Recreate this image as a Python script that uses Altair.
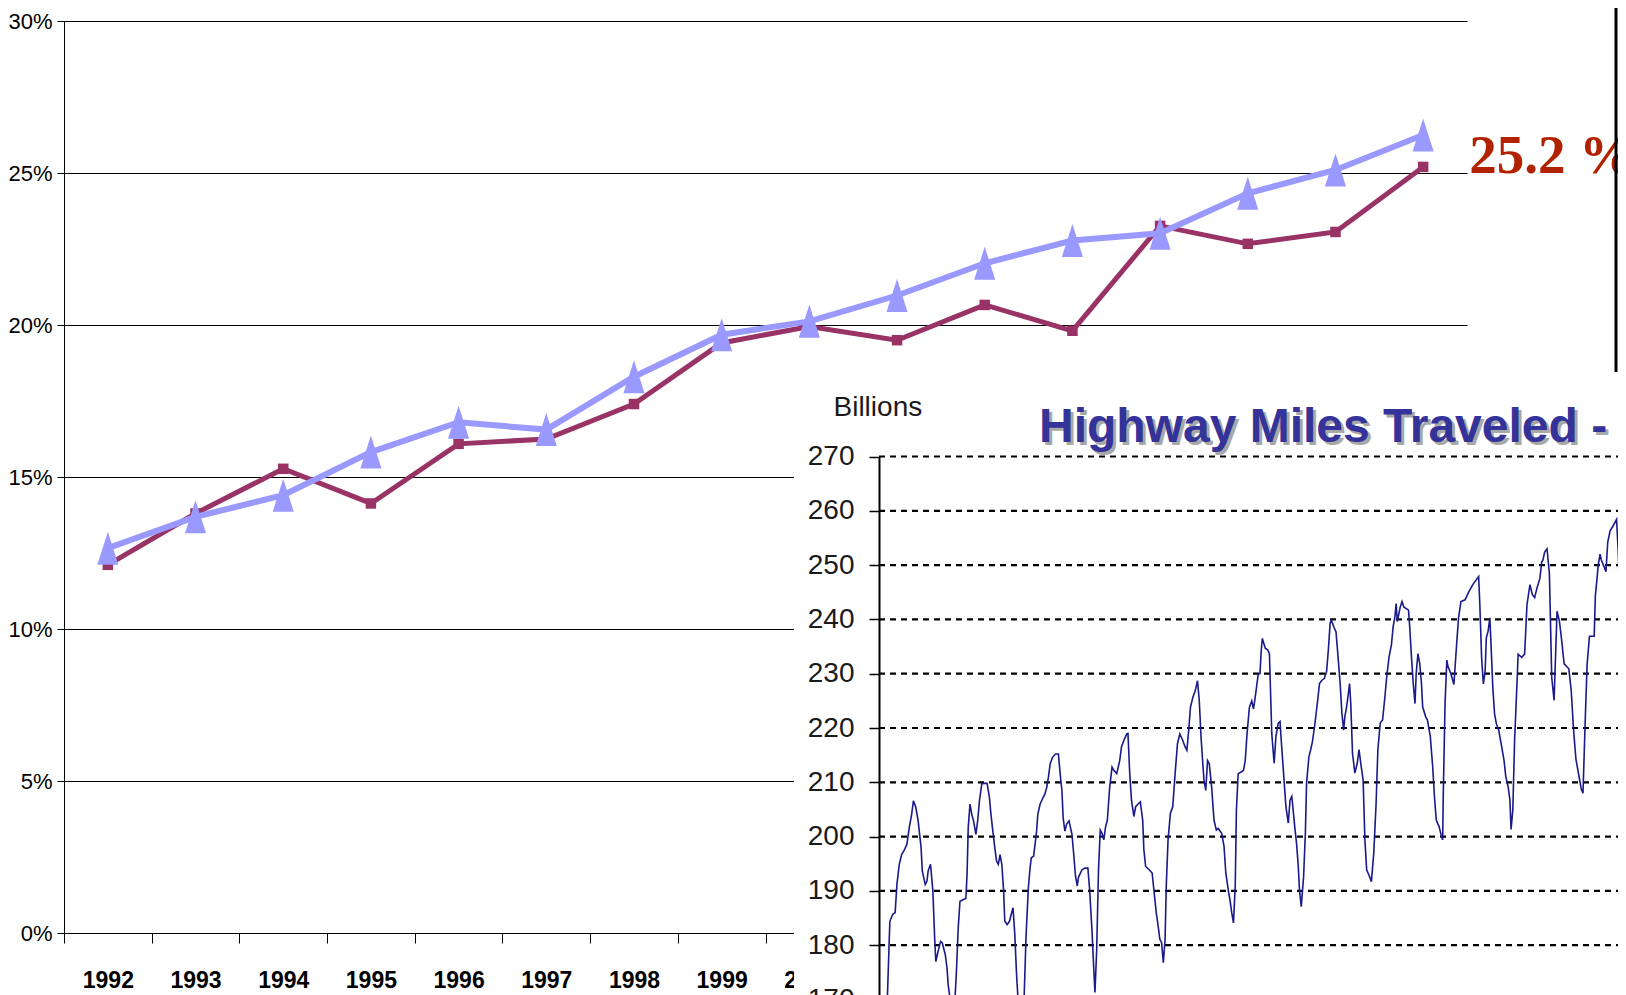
import altair as alt
import pandas as pd

# ---------------- main chart data ----------------
YEARS = [str(y) for y in range(1992, 2008)]
SERIES_A = [12.11, 13.8, 15.27, 14.13, 16.09, 16.25, 17.4, 19.41, 19.95, 19.5,
            20.66, 19.81, 23.26, 22.67, 23.06, 25.2]          # maroon squares
SERIES_B = [12.66, 13.69, 14.4, 15.82, 16.8, 16.56, 18.3, 19.68, 20.12, 20.97,
            22.03, 22.78, 23.02, 24.33, 25.1, 26.25]          # light blue triangles
Y_TICKS = [0, 5, 10, 15, 20, 25, 30]

# ---------------- inset (Highway Miles Traveled) data ----------------
VMT_MONTH = [0.0, 0.2, 0.4, 0.6, 1.1, 1.5, 1.8, 2.2, 2.6, 3.0,
             3.5, 3.9, 4.3, 4.6, 5.0, 5.4, 5.9, 6.1, 6.6, 6.9,
             7.1, 7.5, 7.9, 8.2, 8.4, 8.8, 9.2, 9.5, 10.0, 10.3,
             10.5, 10.8, 11.3, 11.6, 11.9, 12.2, 12.5, 13.1, 13.5, 13.7,
             13.9, 14.2, 14.5, 14.8, 15.2, 15.5, 15.8, 16.2, 16.5, 17.1,
             17.5, 17.7, 18.0, 18.4, 18.7, 19.0, 19.3, 19.6, 19.9, 20.1,
             20.5, 20.9, 21.2, 21.5, 21.8, 22.1, 22.3, 22.8, 23.4, 23.7,
             24.1, 24.4, 24.6, 25.0, 25.5, 25.7, 26.1, 26.6, 26.9, 27.2,
             27.5, 27.8, 28.2, 28.7, 29.2, 29.5, 29.8, 30.0, 30.3, 30.6,
             31.0, 31.5, 31.8, 32.1, 32.4, 32.6, 33.2, 33.7, 34.2, 34.5,
             34.9, 35.2, 35.4, 35.7, 36.0, 36.3, 36.6, 36.9, 37.2, 37.5,
             37.9, 38.3, 38.6, 39.1, 39.6, 39.9, 40.3, 40.8, 41.0, 41.3,
             41.6, 42.0, 42.3, 42.8, 43.1, 43.5, 43.7, 44.0, 44.6, 45.1,
             45.4, 45.8, 46.2, 46.4, 46.7, 47.0, 47.3, 47.5, 47.8, 48.2,
             48.6, 49.0, 49.4, 49.8, 50.3, 50.7, 51.0, 51.3, 51.6, 52.0,
             52.4, 52.8, 53.1, 53.4, 53.7, 53.9, 54.2, 54.5, 54.8, 55.2,
             55.6, 56.0, 56.3, 56.9, 57.3, 57.6, 58.1, 58.3, 58.6, 58.9,
             59.2, 59.4, 59.7, 60.2, 60.6, 60.9, 61.2, 61.6, 62.0, 62.3,
             62.5, 62.8, 63.1, 63.4, 63.6, 63.8, 64.3, 64.7, 65.0, 65.4,
             65.8, 66.1, 66.5, 66.8, 67.0, 67.4, 67.8, 68.2, 68.5, 68.8,
             69.0, 69.3, 69.6, 69.9, 70.1, 70.4, 70.8, 71.1, 71.3, 71.7,
             72.0, 72.3, 72.7, 73.2, 73.5, 73.9, 74.3, 74.7, 75.0, 75.3,
             75.5, 75.9, 76.3, 76.6, 77.0, 77.3, 77.6, 77.8, 78.1, 78.4,
             78.6, 78.8, 79.1, 79.5, 79.9, 80.2, 80.5, 80.9, 81.2, 81.5,
             82.0, 82.3, 82.7, 83.1, 83.4, 83.8, 84.2, 84.6, 84.9, 85.3,
             85.7, 86.0, 86.3, 86.5, 86.7, 87.2, 87.5, 87.8, 88.6, 88.8,
             89.1, 89.4, 89.7, 89.9, 90.2, 90.5, 90.8, 91.0, 91.5, 91.8,
             92.3, 92.7, 93.0, 93.3, 93.8, 94.2, 94.4, 94.5, 94.8, 95.1,
             95.3, 95.8, 96.1, 96.3, 96.8, 97.1, 97.5, 98.2, 98.7, 99.5,
             100.5, 100.7, 101.0, 101.3, 101.6, 101.8, 102.1, 102.4, 102.6, 102.9,
             103.2, 103.5, 103.9, 104.3, 104.8, 105.1, 105.5, 105.8, 106.0, 106.3,
             106.6, 107.0, 107.2, 107.8, 108.3, 108.7, 109.2, 109.6, 110.0, 110.4,
             110.9, 111.2, 111.4, 111.7, 112.1, 112.5, 112.9, 113.3, 113.8, 114.2,
             114.6, 115.0, 115.8, 116.2, 116.6, 117.0, 117.4, 117.9, 118.2, 118.6,
             118.9, 119.3, 120.1, 120.3, 120.8, 121.1, 121.3, 121.7, 122.1, 122.4,
             122.8, 123.3, 123.9, 124.2, 124.5, 124.7, 125.0]
VMT_BILLIONS = [168, 170.9, 177.7, 184.4, 185.7, 186, 191.2, 194.9, 196.7, 197.4,
                198.6, 201.7, 204.1, 206.6, 205.4, 202.9, 198, 193.7, 191.2, 191.8,
                193.7, 194.9, 190, 181.4, 177, 178.9, 180.7, 180.4, 178.3, 175.8,
                172.7, 170.3, 166, 169, 175.2, 183.2, 188.1, 188.4, 188.6, 193,
                201.7, 206, 204.1, 202.9, 200.4, 202.9, 206.6, 209.7, 209.8, 209.8,
                207.2, 204.7, 201.7, 198, 195.5, 194.9, 196.7, 194.9, 190, 184.4,
                183.8, 184.4, 185.7, 186.9, 182, 174.6, 170.9, 165, 170.9, 181.4,
                190.6, 194.3, 196.1, 196.4, 201, 204.1, 206, 207.2, 207.8, 209,
                210.9, 213.4, 214.6, 215.2, 215.2, 211.5, 208.4, 203.5, 201, 202.3,
                202.9, 200.4, 196.7, 192.7, 190.9, 192.5, 193.9, 194.2, 194.2, 190.2,
                182.6, 175.6, 171.3, 179.3, 193.9, 201.2, 200.6, 199.4, 201.8, 203,
                209.1, 212.8, 212.2, 211.6, 214, 216.5, 217.7, 218.9, 219, 211.6,
                206.7, 203.7, 205.5, 206.1, 206.4, 203, 197.6, 194.5, 193.9, 193.3,
                190.2, 186, 182.9, 181.1, 180.5, 176.8, 181.1, 190.9, 199.4, 204.3,
                205.5, 211.6, 217.1, 218.9, 217.7, 216.5, 215.9, 219.5, 223.8, 225.6,
                226.8, 228.7, 225, 218.3, 213.4, 210.4, 208.5, 214, 213.4, 209.1,
                203, 201.2, 201.5, 200.6, 198.2, 193.3, 189.6, 188.4, 186, 184.1,
                190.9, 204.9, 211.6, 211.9, 212.2, 214, 218.9, 223.8, 225, 223.5,
                225, 227.4, 229.9, 230, 234.1, 236.5, 234.7, 234.4, 233.7, 219,
                213.5, 218.4, 220.9, 221.2, 217.8, 211.7, 205.5, 202.5, 206.7, 207.4,
                205.2, 201.8, 198.8, 194.5, 190.2, 187.1, 192.6, 200.6, 209.8, 214.7,
                216, 217.5, 220.6, 225.2, 228.2, 228.8, 229.1, 230.4, 234.4, 239.3,
                239.9, 238.7, 237.7, 233.7, 228.2, 222.7, 219.6, 222.1, 223.9, 226.4,
                228.2, 224.5, 215.3, 211.7, 213.5, 216, 213.5, 210.4, 199.4, 193.9,
                192.6, 191.7, 196.9, 206.1, 216, 220.9, 221.5, 225.8, 229.4, 233.1,
                235.3, 238.7, 240.5, 242.9, 239.6, 242.3, 243.3, 242.3, 241.7, 238.7,
                233.1, 228.2, 224.5, 230, 233.7, 231.9, 228.2, 223.9, 222.1, 221.5,
                218.4, 212.9, 207.4, 203.1, 201.8, 200, 199.4, 208, 224.5, 232.5,
                231.3, 230, 228.8, 228, 236, 240.4, 243.3, 243.6, 244.8, 246.4,
                247.9, 242.7, 233, 228.1, 230.5, 236.6, 237.8, 240.3, 235.4, 227.5,
                222.6, 220.8, 219.6, 217.2, 214.1, 211.1, 209.2, 206.8, 201.3, 205,
                217.8, 228.1, 233.6, 233, 233.6, 242.7, 246.4, 244.6, 244, 245.8,
                247.6, 250.6, 250.9, 252.4, 253, 248.5, 229.3, 225.1, 241.5, 239.7,
                236, 231.8, 230.9, 227, 219.7, 214.3, 211.9, 208.8, 208, 222,
                231.7, 236.9, 236.9, 244.3, 250.1, 252, 251, 249.9, 248.8, 254.2,
                256.3, 257.2, 258.4, 252, 240, 236, 244]
VMT_TICKS = list(range(170, 280, 10))
VMT_GRID = list(range(180, 280, 10))
INSET_TITLE = "Highway Miles Traveled - U.S."
INSET_UNIT = "Billions"

# ---------------- styling ----------------
SANS = "Liberation Sans, Arial, sans-serif"
MAROON = "#993366"
LILAC = "#9999FF"
NAVY = "#1a1a8a"
W, H = 1403, 912

# ---------------- main chart ----------------
x_main = alt.X(
    "year:N", sort=YEARS,
    scale=alt.Scale(type="band", paddingInner=0, paddingOuter=0),
    axis=alt.Axis(title=None, labelAngle=0, tickBand="extent", grid=False,
                  domainColor="black", domainWidth=1, tickColor="black",
                  tickSize=10, tickWidth=1, labelColor="black", labelFont=SANS,
                  labelFontSize=23, labelFontWeight="bold", labelPadding=26),
)
y_main = alt.Y(
    "pct:Q",
    scale=alt.Scale(domain=[0, 30], nice=False, zero=True),
    axis=alt.Axis(title=None, values=Y_TICKS, labelExpr="datum.value + '%'",
                  grid=True, gridColor="black", gridWidth=1, gridOpacity=1,
                  domainColor="black", domainWidth=1, tickColor="black",
                  tickSize=7, labelColor="black", labelFont=SANS,
                  labelFontSize=22, labelPadding=5),
)

df_a = pd.DataFrame({"year": YEARS, "pct": SERIES_A})
df_b = pd.DataFrame({"year": YEARS, "pct": SERIES_B})
df_lbl = pd.DataFrame({"year": [YEARS[-1]], "pct": [SERIES_A[-1]],
                       "label": [f"{SERIES_A[-1]} %"]})

a_line = alt.Chart(df_a).mark_line(color=MAROON, strokeWidth=5).encode(x=x_main, y=y_main)
a_pts = alt.Chart(df_a).mark_point(shape="square", filled=True, size=110, color=MAROON,
                                   opacity=1).encode(x=x_main, y=y_main)
b_line = alt.Chart(df_b).mark_line(color=LILAC, strokeWidth=6).encode(x=x_main, y=y_main)
b_pts = alt.Chart(df_b).mark_point(shape="M0,-1L0.64,1L-0.64,1Z", filled=True, size=1089,
                                   color=LILAC, opacity=1).encode(x=x_main, y=y_main)
end_lbl = alt.Chart(df_lbl).mark_text(
    font="Liberation Serif, Times New Roman, serif", fontSize=55, fontWeight="bold",
    color="#B22200", align="left", baseline="alphabetic", dx=46, dy=6,
).encode(x=x_main, y=y_main, text="label:N")

main = alt.layer(a_line, a_pts, b_line, b_pts, end_lbl)

# ---------------- inset chart ----------------
T_AXIS, T_EDGE = -1.24, 125.5
x_in_scale = alt.Scale(domain=[T_AXIS, T_EDGE], range=[815, 1562], nice=False, zero=False)
y_in_scale = alt.Scale(domain=[170, 270], range=[978.5, 435.5], nice=False, zero=False)
y_in_axis = alt.Axis(
    orient="left", offset=-815, values=VMT_TICKS, grid=False, zindex=1,
    domainColor="black", domainWidth=2, tickColor="black", tickSize=10, tickWidth=1.5,
    labelFont=SANS, labelFontSize=28, labelColor="#1a1a1a", labelPadding=15,
    title=INSET_UNIT, titleAngle=0, titleAlign="left", titleBaseline="alphabetic",
    titleX=-46, titleY=394, titleFont=SANS, titleFontSize=28, titleFontWeight="normal",
    titleColor="#1a1a1a",
)


def xi_field():
    return alt.X("t:Q", scale=x_in_scale, axis=None)


def xi_datum(v):
    return alt.X(datum=v, type="quantitative", scale=x_in_scale, axis=None)


def yi_field():
    return alt.Y("v:Q", scale=y_in_scale, axis=y_in_axis)


def yi_datum(v):
    return alt.Y(datum=v, type="quantitative", scale=y_in_scale, axis=y_in_axis)


one = pd.DataFrame({"k": [0]})
df_vmt = pd.DataFrame({"t": VMT_MONTH, "v": VMT_BILLIONS})
df_grid = pd.DataFrame({"v": VMT_GRID})

box = alt.Chart(one).mark_rect(color="white", opacity=1).encode(
    x=xi_datum(-15.66), x2=alt.X2(datum=T_EDGE + 5),
    y=yi_datum(160), y2=alt.Y2(datum=286.85),
)
grid = alt.Chart(df_grid).mark_rule(color="#000000", strokeWidth=2.2, strokeDash=[6, 5]).encode(
    x=xi_datum(T_AXIS), x2=alt.X2(datum=T_EDGE), y=yi_field(),
)
vmt_line = alt.Chart(df_vmt).mark_line(color=NAVY, strokeWidth=1.6).encode(
    x=xi_field(), y=yi_field(),
)
title_shadow = alt.Chart(one).mark_text(
    text=INSET_TITLE, font=SANS, fontSize=48, fontWeight="bold", color="#a8a8a8",
    align="left", baseline="alphabetic", dx=3, dy=3,
).encode(x=xi_datum(25.9), y=yi_datum(272.67))
title_txt = alt.Chart(one).mark_text(
    text=INSET_TITLE, font=SANS, fontSize=48, fontWeight="bold", color="#333399",
    align="left", baseline="alphabetic",
).encode(x=xi_datum(25.9), y=yi_datum(272.67))
edge_rule = alt.Chart(one).mark_rule(color="black", strokeWidth=3).encode(
    x=alt.value(1552), y=alt.value(-21), y2=alt.value(351),
)

inset = alt.layer(box, grid, vmt_line, title_shadow, title_txt, edge_rule)

chart = (
    alt.layer(main, inset)
    .resolve_scale(x="independent", y="independent")
    .properties(
        width=W, height=H,
        padding={"left": 56, "top": 13, "right": 151, "bottom": 62},
        autosize=alt.AutoSizeParams(type="none"),
        background="white",
    )
    .configure_view(stroke=None)
)

chart.save("out.html", embed_options={"renderer": "svg", "actions": False})
